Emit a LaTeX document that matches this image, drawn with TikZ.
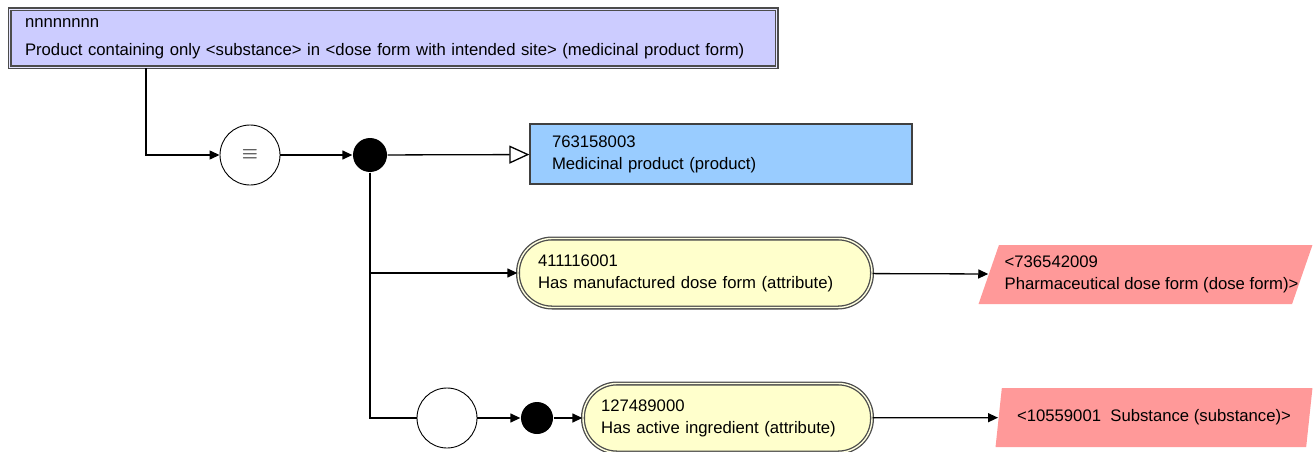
\documentclass[tikz,border=0pt]{standalone}
\usepackage{fontspec}
\setmainfont{Liberation Sans}
\usetikzlibrary{shapes.geometric,arrows.meta}
\definecolor{formlav}{HTML}{CCCCFF}
\definecolor{prodblue}{HTML}{99CCFF}
\definecolor{attryellow}{HTML}{FFFFCC}
\definecolor{rangepink}{HTML}{FF9999}
\begin{document}
\begin{tikzpicture}[x=1pt, y=-1pt, line width=1.3pt,
  >={Triangle[length=10pt,width=9pt]},
  every node/.style={font=\fontsize{16.7}{22}\selectfont},
  attrbox/.style={shape=rectangle, rounded corners=34pt, draw=black!70, double=attryellow!60!white, double distance=1.4pt, fill=attryellow, minimum height=69pt, align=left, inner ysep=0pt},
  rangebox/.style={shape=trapezium, trapezium stretches=true, fill=rangepink, minimum height=59pt, align=left, inner ysep=0pt},
  opcircle/.style={shape=circle, draw=black, fill=white, line width=0.9pt, minimum size=60pt, inner sep=0pt},
  dot/.style={shape=circle, fill=black, inner sep=0pt, minimum size=#1}]
\useasboundingbox (0,0) rectangle (1314,452);
% defining concept
\node[shape=rectangle, draw=black!70, double=formlav!50!white, double distance=1.4pt, fill=formlav, minimum width=767pt, minimum height=58pt, text width=736pt, inner xsep=15pt, inner ysep=0pt, align=left] (pcf) at (393,38.5) {nnnnnnnn\\[6pt]Product containing only <substance> in <dose form with intended site> (medicinal product form)};
\node[opcircle] (eq) at (250,155) {\fontsize{22}{22}\selectfont$\equiv$};
\node[dot=34pt] (and1) at (370,155) {};
% parent
\node[shape=rectangle, draw=black!75, fill=prodblue, minimum width=382pt, minimum height=60pt, text width=338pt, inner xsep=22pt, inner ysep=0pt, align=left] (mp) at (721,154) {763158003\\Medicinal product (product)};
% attributes
\node[attrbox, minimum width=354pt, text width=314pt, inner xsep=20pt] (hmdf) at (695,273) {411116001\\Has manufactured dose form (attribute)};
\node[rangebox, trapezium left angle=63, trapezium right angle=117, minimum width=335pt, inner xsep=-17pt] (pdf) at (1145.5,274.5) {\hspace*{12pt}<736542009\\\hspace*{12pt}Pharmaceutical dose form (dose form)>};
\node[opcircle] (grp) at (447,418) {};
\node[dot=32pt] (and2) at (537,418) {};
\node[attrbox, minimum width=289pt, text width=253pt, inner xsep=18pt] (hai) at (727.5,418) {127489000\\Has active ingredient (attribute)};
\node[rangebox, trapezium left angle=70, trapezium right angle=110, minimum width=318pt, inner xsep=0pt] (sub) at (1154,417.5) {<10559001\ \ Substance (substance)>};
% connectors
\draw[->] ([xshift=137pt]pcf.south west) |- (eq);
\draw[->] (eq) -- (and1);
\draw[-{Triangle[open,length=20pt,width=18pt,fill=white]}] (and1) -- (mp);
\draw[->] (and1) |- (hmdf);
\draw (and1) |- (grp);
\draw[->] (hmdf) -- (pdf);
\draw[->] (grp) -- (and2);
\draw[->] (and2) -- (hai);
\draw[->] (hai) -- (sub);
\end{tikzpicture}
\end{document}
